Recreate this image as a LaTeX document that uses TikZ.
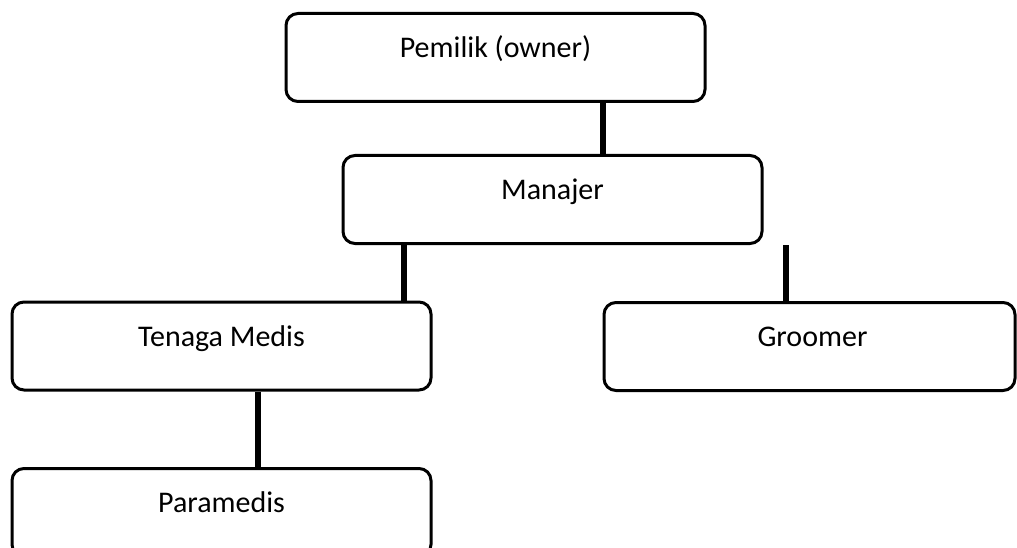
\documentclass[tikz,border=0pt]{standalone}
\usepackage{fontspec}
\setmainfont{Carlito}
\usetikzlibrary{positioning}

\begin{document}
\begin{tikzpicture}[x=1pt, y=-1pt,
  jabatan/.style={draw, line width=3pt, rounded corners=12pt, minimum width=419pt, minimum height=88pt, text height=19pt, text depth=19pt, inner sep=0pt, font=\fontsize{30}{34}\selectfont},
  garis/.style={line width=5.5pt}]
\useasboundingbox (0,0) rectangle (1017,548);
\node[jabatan] (owner) at (495.5,57.5) {Pemilik (owner)};
\node[jabatan] (manajer) at (552.5,199.5) {Manajer};
\node[jabatan] (medis) at (221.5,346) {Tenaga Medis};
\node[jabatan, minimum width=411pt] (groomer) at (809.5,346.5) {\hspace*{6pt}Groomer};
\node[jabatan] (paramedis) at (221.5,512.5) {Paramedis};
\coordinate (k1) at (603,0);
\coordinate (k2) at (404,0);
\coordinate (k3) at (786,245);
\coordinate (k4) at (258,0);
\draw[garis] (owner.south -| k1) -- (manajer.north -| k1);
\draw[garis] (manajer.south -| k2) -- (medis.north -| k2);
\draw[garis] (k3) -- (groomer.north -| k3);
\draw[garis] (medis.south -| k4) -- (paramedis.north -| k4);
\end{tikzpicture}
\end{document}
